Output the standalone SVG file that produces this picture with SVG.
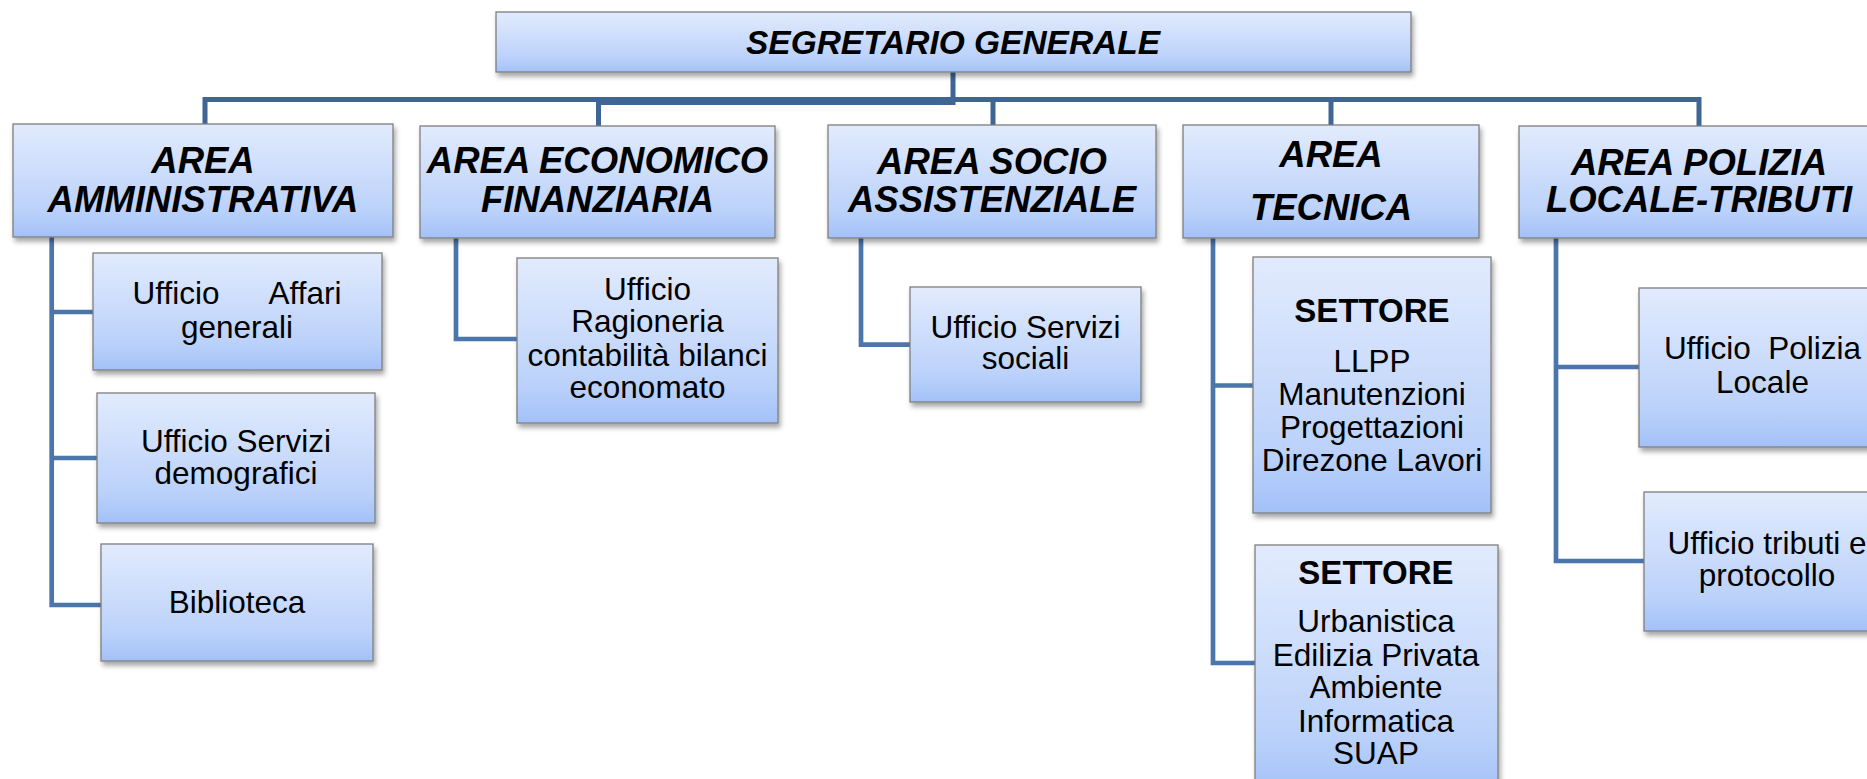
<svg xmlns="http://www.w3.org/2000/svg" width="1867" height="779" viewBox="0 0 1867 779">
<style>
.box{fill:url(#g);stroke:#7f7f7f;stroke-width:1.3;filter:url(#sh)}
.hd{font-family:"Liberation Sans",Arial,sans-serif;font-weight:bold;font-style:italic;font-size:36.5px;fill:#000;text-anchor:middle}
.tx{font-family:"Liberation Sans",Arial,sans-serif;font-size:31.5px;fill:#000;text-anchor:middle}
.bd{font-family:"Liberation Sans",Arial,sans-serif;font-weight:bold;font-size:33px;fill:#000;text-anchor:middle}
.bus{fill:none;stroke:#3f6594;stroke-width:5;stroke-linejoin:miter}
.ln{fill:none;stroke:#4a76ac;stroke-width:4.7;stroke-linejoin:miter}
</style>
<defs>
<linearGradient id="g" x1="0" y1="0" x2="0" y2="1">
<stop offset="0" stop-color="#e2ebfd"/>
<stop offset="0.75" stop-color="#bcd2fa"/>
<stop offset="1" stop-color="#a3c1f8"/>
</linearGradient>
<filter id="sh" x="-10%" y="-10%" width="120%" height="130%">
<feDropShadow dx="2" dy="4" stdDeviation="2.5" flood-color="#000" flood-opacity="0.35"/>
</filter>
</defs>
<rect width="1867" height="779" fill="#fff"/>
<g id="connectors">
<path class="bus" d="M205,124 V99.5 H1699 V126"/>
<path class="bus" d="M598.5,126 V102.5 H953 V72"/>
<path class="bus" d="M993,100 V126"/>
<path class="bus" d="M1331,100 V125"/>
<path class="ln" d="M51.7,237 V605 H101"/>
<path class="ln" d="M51.7,312 H93"/>
<path class="ln" d="M51.7,458 H97"/>
<path class="ln" d="M456,238 V339 H517"/>
<path class="ln" d="M861,238 V344.7 H910"/>
<path class="ln" d="M1213,238 V663 H1255"/>
<path class="ln" d="M1213,385.5 H1253"/>
<path class="ln" d="M1556,238 V561 H1644"/>
<path class="ln" d="M1556,367 H1639"/>
</g>
<g id="segretario">
<rect class="box" x="496" y="12" width="915" height="60"/>
<text x="953" y="54" style="font-family:'Liberation Sans',Arial,sans-serif;font-weight:bold;font-style:italic;font-size:34px;text-anchor:middle" textLength="414" lengthAdjust="spacingAndGlyphs">SEGRETARIO GENERALE</text>
</g>
<g id="area-amministrativa">
<rect class="box" x="13" y="124" width="380" height="113"/>
<text class="hd" x="203" y="173">AREA</text>
<text class="hd" x="203" y="212">AMMINISTRATIVA</text>
</g>
<g id="area-economico">
<rect class="box" x="420" y="126" width="355" height="112"/>
<text class="hd" x="597.5" y="173">AREA ECONOMICO</text>
<text class="hd" x="597.5" y="212">FINANZIARIA</text>
</g>
<g id="area-socio">
<rect class="box" x="828" y="125" width="328" height="113"/>
<text class="hd" x="992" y="174">AREA SOCIO</text>
<text class="hd" x="992" y="212">ASSISTENZIALE</text>
</g>
<g id="area-tecnica">
<rect class="box" x="1183" y="125" width="296" height="113"/>
<text class="hd" x="1331" y="167">AREA</text>
<text class="hd" x="1331" y="220">TECNICA</text>
</g>
<g id="area-polizia">
<rect class="box" x="1519" y="126" width="362" height="112"/>
<text class="hd" x="1699" y="175">AREA POLIZIA</text>
<text class="hd" x="1699" y="212">LOCALE-TRIBUTI</text>
</g>
<g id="ufficio-affari">
<rect class="box" x="93" y="253" width="289" height="117"/>
<text class="tx" x="237" y="304" word-spacing="42">Ufficio Affari</text>
<text class="tx" x="237" y="338">generali</text>
</g>
<g id="ufficio-demografici">
<rect class="box" x="97" y="393" width="278" height="130"/>
<text class="tx" x="236" y="452">Ufficio Servizi</text>
<text class="tx" x="236" y="484">demografici</text>
</g>
<g id="biblioteca">
<rect class="box" x="101" y="544" width="272" height="117"/>
<text class="tx" x="237" y="613">Biblioteca</text>
</g>
<g id="ufficio-ragioneria">
<rect class="box" x="517" y="258" width="261" height="165"/>
<text class="tx" x="647.5" y="300">Ufficio</text>
<text class="tx" x="647.5" y="332">Ragioneria</text>
<text class="tx" x="647.5" y="366">contabilità bilanci</text>
<text class="tx" x="647.5" y="398">economato</text>
</g>
<g id="ufficio-sociali">
<rect class="box" x="910" y="287" width="231" height="115"/>
<text class="tx" x="1025.5" y="338">Ufficio Servizi</text>
<text class="tx" x="1025.5" y="369">sociali</text>
</g>
<g id="settore-llpp">
<rect class="box" x="1253" y="257" width="238" height="256"/>
<text class="bd" x="1372" y="322">SETTORE</text>
<text class="tx" x="1372" y="372">LLPP</text>
<text class="tx" x="1372" y="405">Manutenzioni</text>
<text class="tx" x="1372" y="438">Progettazioni</text>
<text class="tx" x="1372" y="471">Direzone Lavori</text>
</g>
<g id="settore-urbanistica">
<rect class="box" x="1255" y="545" width="243" height="250"/>
<text class="bd" x="1376" y="584">SETTORE</text>
<text class="tx" x="1376" y="632">Urbanistica</text>
<text class="tx" x="1376" y="666">Edilizia Privata</text>
<text class="tx" x="1376" y="698">Ambiente</text>
<text class="tx" x="1376" y="732">Informatica</text>
<text class="tx" x="1376" y="764">SUAP</text>
</g>
<g id="ufficio-polizia">
<rect class="box" x="1639" y="288" width="248" height="159"/>
<text class="tx" x="1762.5" y="359" style="white-space:pre">Ufficio  Polizia</text>
<text class="tx" x="1762.5" y="393">Locale</text>
</g>
<g id="ufficio-tributi">
<rect class="box" x="1644" y="492" width="246" height="139"/>
<text class="tx" x="1767" y="554">Ufficio tributi e</text>
<text class="tx" x="1767" y="586">protocollo</text>
</g>
</svg>
